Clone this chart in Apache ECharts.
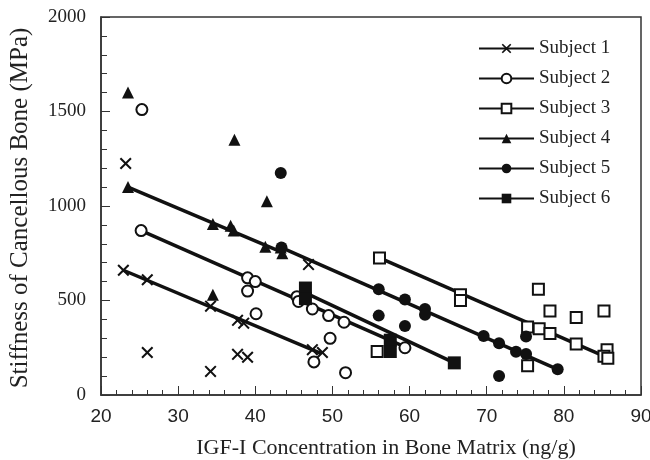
<!DOCTYPE html>
<html>
<head>
<meta charset="utf-8">
<script src="https://cdn.jsdelivr.net/npm/echarts@6/dist/echarts.min.js"></script>
<style>
  html, body { margin: 0; padding: 0; background: #fff; }
  #main { width: 650px; height: 460px; }
</style>
</head>
<body>
<div id="main"></div>
<script>
const subjects = ['Subject 1', 'Subject 2', 'Subject 3', 'Subject 4', 'Subject 5', 'Subject 6'];

// measured points, [IGF-I, stiffness]
const subject1 = [[22.9, 660], [23.2, 1225], [26, 610], [26, 225], [34.2, 470], [34.2, 125], [37.7, 395],
  [38.5, 380], [37.7, 215], [39, 200], [46.9, 690], [47.4, 240], [48.7, 225]];
const subject2 = [[25.3, 1510], [25.2, 870], [39, 620], [40, 600], [39, 550], [40.1, 430], [45.4, 520],
  [45.6, 495], [47.4, 455], [49.5, 420], [51.5, 385], [49.7, 300], [47.6, 175], [51.7, 118], [59.4, 250]];
const subject3 = [[56.1, 725], [66.6, 530], [66.6, 500], [55.8, 230], [76.7, 560], [78.2, 445], [81.6, 410],
  [85.2, 445], [75.3, 360], [76.8, 350], [78.2, 325], [81.6, 270], [85.6, 240], [85.2, 205], [85.7, 195], [75.3, 155]];
const subject4 = [[23.5, 1600], [23.5, 1100], [37.3, 1350], [41.5, 1025], [34.5, 905], [36.8, 895],
  [37.2, 870], [41.3, 785], [43.3, 780], [43.5, 750], [34.5, 530]];
const subject5 = [[43.3, 1175], [43.4, 780], [56, 560], [59.4, 505], [62, 455], [62, 425], [56, 420],
  [59.4, 365], [69.6, 312], [71.6, 274], [73.8, 229], [75.1, 217], [75.1, 309], [79.2, 136], [71.6, 100]];
const subject6 = [[46.5, 566], [46.5, 510], [57.5, 290], [57.5, 230], [65.8, 170]];

// fitted line end points
const fit1 = [[22.9, 660], [48.5, 220]];
const fit2 = [[25.2, 870], [59.4, 255]];
const fit3 = [[56.1, 725], [85.5, 200]];
const fit4 = [[23.5, 1100], [43.5, 755]];
const fit5 = [[43.4, 780], [79.2, 136]];
const fit6 = [[46.5, 540], [65.8, 170]];

const points = [subject1, subject2, subject3, subject4, subject5, subject6];
const fits = [fit1, fit2, fit3, fit4, fit5, fit6];

const crossPath = 'path://M0,1.2L1.2,0L5,3.8L8.8,0L10,1.2L6.2,5L10,8.8L8.8,10L5,6.2L1.2,10L0,8.8L3.8,5Z';
const symbols = [crossPath, 'emptyCircle', 'emptyRect', 'triangle', 'circle', 'rect'];
const sizes = [12, 11, 11, 12, 12, 13];

const serif = '"Liberation Serif", "DejaVu Serif", serif';
const ink = '#111';

const myChart = echarts.init(document.getElementById('main'));

const series = [];
subjects.forEach(function (name, i) {
  series.push({
    name: name,
    type: 'line',
    data: fits[i],
    symbol: symbols[i],
    symbolSize: sizes[i],
    showSymbol: false,
    lineStyle: { color: ink, width: 3.5 },
    itemStyle: { color: ink },
    z: 2,
    silent: true
  });
});
subjects.forEach(function (name, i) {
  series.push({
    name: name,
    type: 'scatter',
    data: points[i],
    symbol: symbols[i],
    symbolSize: sizes[i],
    itemStyle: { color: ink, opacity: 1, borderWidth: (i === 1 || i === 2) ? 1.5 : 0 },
    z: 3
  });
});

const option = {
  backgroundColor: '#fff',
  animation: false,
  grid: {
    left: 101, right: 9, top: 17, bottom: 65,
    outerBoundsMode: 'none',
    containLabel: false,
    show: true, borderColor: '#333', borderWidth: 1.5
  },
  legend: {
    data: subjects,
    orient: 'vertical',
    left: 478,
    top: 39,
    padding: 0,
    itemWidth: 55,
    itemHeight: 12,
    itemGap: 11,
    textStyle: { fontFamily: serif, fontSize: 19, color: '#222' }
  },
  xAxis: {
    type: 'value',
    min: 20, max: 90, interval: 10,
    name: 'IGF-I Concentration in Bone Matrix (ng/g)',
    nameLocation: 'middle',
    nameGap: 42,
    nameTextStyle: { fontFamily: serif, fontSize: 22, color: '#222', padding: [0, 0, 0, 30] },
    axisLine: { lineStyle: { color: '#333', width: 1.5 } },
    axisTick: { inside: true, length: 9, lineStyle: { color: '#333' } },
    minorTick: { show: true, splitNumber: 5, length: 5, lineStyle: { color: '#333' } },
    splitLine: { show: false },
    axisLabel: { fontFamily: '"Liberation Sans", Arial, sans-serif', fontSize: 19, color: '#222', margin: 12 }
  },
  yAxis: {
    type: 'value',
    min: 0, max: 2000, interval: 500,
    name: 'Stiffness of Cancellous Bone (MPa)',
    nameLocation: 'middle',
    nameGap: 68,
    nameTextStyle: { fontFamily: serif, fontSize: 25, color: '#222', padding: [0, 4, 0, 0] },
    axisLine: { show: true, lineStyle: { color: '#333', width: 1.5 } },
    axisTick: { show: true, inside: true, length: 9, lineStyle: { color: '#333' } },
    minorTick: { show: true, splitNumber: 5, length: 6, lineStyle: { color: '#333' } },
    splitLine: { show: false },
    axisLabel: {
      fontFamily: serif, fontSize: 19, color: '#222', margin: 15,
      formatter: function (v) { return String(v); }
    }
  },
  series: series
};

option && myChart.setOption(option);
</script>
</body>
</html>
